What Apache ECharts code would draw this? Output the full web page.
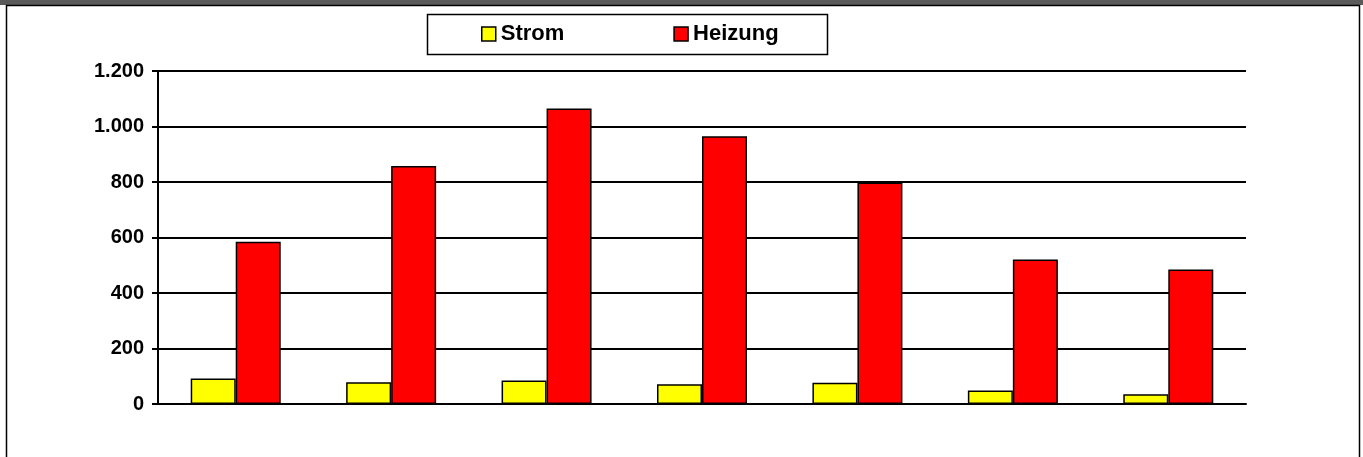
<!DOCTYPE html>
<html>
<head>
<meta charset="utf-8">
<script src="https://cdn.jsdelivr.net/npm/echarts@6/dist/echarts.min.js"></script>
<style>
html,body{margin:0;padding:0;background:#fff;}
#chart{width:1363px;height:457px;}
</style>
</head>
<body>
<div id="chart"></div>
<script>
const categories = ['1', '2', '3', '4', '5', '6', '7'];
const seriesNames = ['Strom', 'Heizung'];
const strom = [92, 78, 85, 71, 77, 49, 35];
const heizung = [585, 858, 1065, 965, 798, 521, 485];
const yTicks = [0, 200, 400, 600, 800, 1000, 1200];

function fmt(v) {
  return String(v).replace(/\B(?=(\d{3})+(?!\d))/g, '.');
}

const chart = echarts.init(document.getElementById('chart'), null, {renderer: 'canvas'});
const font = 'Arial, "Liberation Sans", sans-serif';
chart.setOption({
  backgroundColor: '#ffffff',
  animation: false,
  graphic: [
    {type: 'rect', shape: {x: 0, y: 0, width: 1363, height: 5}, style: {fill: '#5a5a5a'}, silent: true, z: -1},
    {type: 'rect', shape: {x: 6.5, y: 5.5, width: 1353, height: 460}, style: {fill: 'none', stroke: '#000', lineWidth: 1.5}, silent: true},
    {type: 'rect', shape: {x: 427.5, y: 14.5, width: 400, height: 40}, style: {fill: '#fff', stroke: '#000', lineWidth: 1.5}, silent: true, z: 0}
  ],
  legend: {
    data: seriesNames,
    left: 481,
    top: 23,
    padding: 0,
    itemGap: 109,
    itemWidth: 14,
    itemHeight: 14,
    icon: 'rect',
    itemStyle: {borderColor: '#000', borderWidth: 1.5},
    textStyle: {fontFamily: font, fontWeight: 'bold', fontSize: 22, color: '#000'},
    z: 5
  },
  grid: {left: 158, right: 117, top: 71, bottom: 53, containLabel: false},
  xAxis: {
    type: 'category',
    data: categories,
    axisLine: {show: true, lineStyle: {color: '#000', width: 2}},
    axisTick: {show: false},
    axisLabel: {show: false},
    splitLine: {show: false}
  },
  yAxis: {
    type: 'value',
    min: yTicks[0],
    max: yTicks[yTicks.length - 1],
    interval: 200,
    axisLine: {show: true, lineStyle: {color: '#000', width: 2}},
    axisTick: {show: true, length: 6, lineStyle: {color: '#000', width: 2}},
    axisLabel: {formatter: fmt, fontFamily: font, fontWeight: 'bold', fontSize: 20, color: '#000', margin: 14},
    splitLine: {show: true, lineStyle: {color: '#000', width: 2}}
  },
  series: [
    {
      name: seriesNames[0], type: 'bar', data: strom, barWidth: 45, barGap: '0%',
      itemStyle: {color: '#ffff00', borderColor: '#000', borderWidth: 1.5}
    },
    {
      name: seriesNames[1], type: 'bar', data: heizung, barWidth: 45, barGap: '0%',
      itemStyle: {color: '#ff0000', borderColor: '#000', borderWidth: 1.5}
    }
  ]
});
</script>
</body>
</html>
